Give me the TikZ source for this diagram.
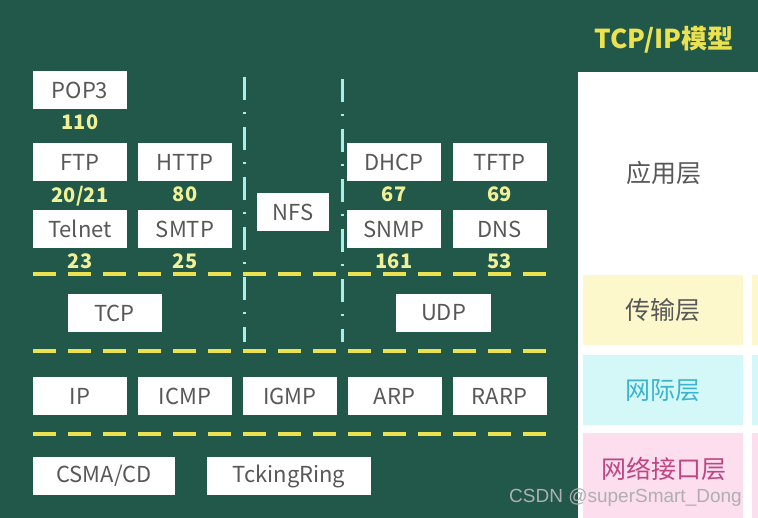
\documentclass[tikz,border=0pt]{standalone}
\usepackage{fontspec}
\usetikzlibrary{positioning}
\setmainfont{Noto Sans CJK SC}
\newfontfamily\markfont{Liberation Sans}
\definecolor{board}{RGB}{34,88,74}
\definecolor{boxtext}{RGB}{88,88,88}
\definecolor{portyellow}{RGB}{240,240,150}
\definecolor{lineyellow}{RGB}{236,226,80}
\definecolor{linecyan}{RGB}{170,238,236}
\definecolor{transfill}{RGB}{252,248,204}
\definecolor{netfill}{RGB}{212,248,248}
\definecolor{linkfill}{RGB}{252,222,238}
\definecolor{nettext}{RGB}{60,180,205}
\definecolor{linktext}{RGB}{190,70,130}
\definecolor{marktext}{RGB}{175,175,175}
\tikzset{
  proto/.style={fill=white, text=boxtext, inner sep=0pt, minimum height=38pt,
    font=\fontsize{22}{25}\selectfont},
  port/.style={text=portyellow, font=\bfseries\fontsize{20}{23}\selectfont, inner sep=0pt},
  layer/.style={fill=#1, inner sep=0pt, anchor=north west},
  layertext/.style={text=#1, font=\fontsize{25}{28}\selectfont, inner sep=0pt},
  divider/.style={lineyellow, line width=4pt, dash pattern=on 23pt off 12pt},
  stack/.style={linecyan, line width=3pt, dash pattern=on 23pt off 12pt on 2pt off 13pt}
}
\begin{document}
\begin{tikzpicture}[x=1pt, y=-1pt]
  \useasboundingbox (0,0) rectangle (758,518);
  \fill[board] (0,0) rectangle (758,518);
  % model column
  \fill[white] (578,72) rectangle (758,518);
  \node[layer=transfill, minimum width=160pt, minimum height=70pt] (trans) at (583,275) {};
  \node[layer=netfill, minimum width=160pt, minimum height=70pt] (net) at (583,355) {};
  \node[layer=linkfill, minimum width=160pt, minimum height=85pt] (link) at (583,433) {};
  \fill[transfill] (752,275) rectangle (758,345);
  \fill[netfill] (752,355) rectangle (758,425);
  \fill[linkfill] (752,433) rectangle (758,518);
  \node[text=lineyellow, font=\bfseries\fontsize{26}{30}\selectfont, inner sep=0pt] (title) at (664,40) {TCP/IP模型};
  \node[layertext=boxtext] (app) at (664,173) {应用层};
  \node[layertext=boxtext] at (trans.center) {传输层};
  \node[layertext=nettext] at (net.center) {网际层};
  \node[layertext=linktext] (linkname) at (664,469) {网络接口层};
  % application protocols and their ports
  \foreach \name/\x/\y/\lab in {pop/80/90.5/POP3, ftp/80/162/FTP, http/185/162/HTTP,
      telnet/80/229/Telnet, smtp/185/229/SMTP, dhcp/394/162/DHCP, tftp/499.5/162/TFTP,
      snmp/394/229/SNMP, dns/499.5/229/DNS}
    \node[proto, minimum width=94pt] (\name) at (\x,\y) {\lab};
  \node[proto, minimum width=72pt] (nfs) at (293,212) {NFS};
  \foreach \name/\lab in {pop/110, ftp/20\slash21, http/80, telnet/23, smtp/25,
      dhcp/67, tftp/69, snmp/161, dns/53}
    \node[port, below=5pt of \name] {\lab};
  % transport, internet, link
  \node[proto, minimum width=94pt] (tcp) at (114.5,313) {TCP};
  \node[proto, minimum width=95pt] (udp) at (443.5,313) {UDP};
  \foreach \name/\x/\lab in {ip/80/IP, icmp/185/ICMP, igmp/290/IGMP, arp/394.5/ARP, rarp/499.5/RARP}
    \node[proto, minimum width=94pt] (\name) at (\x,396) {\lab};
  \node[proto, minimum width=142pt] (csma) at (104,476) {CSMA/CD};
  \node[proto, minimum width=164pt] (ring) at (289,476) {TckingRing};
  % dividers
  \foreach \y in {274,351,434}
    \draw[divider] (33,\y) -- (556,\y);
  \draw[stack] (244,77) -- (244,342);
  \draw[stack] (342,79) -- (342,342);
  \node[text=marktext, font=\markfont\fontsize{19}{21}\selectfont, inner sep=0pt, anchor=east] (mark) at (742,498) {CSDN @superSmart\_Dong};
\end{tikzpicture}
\end{document}
